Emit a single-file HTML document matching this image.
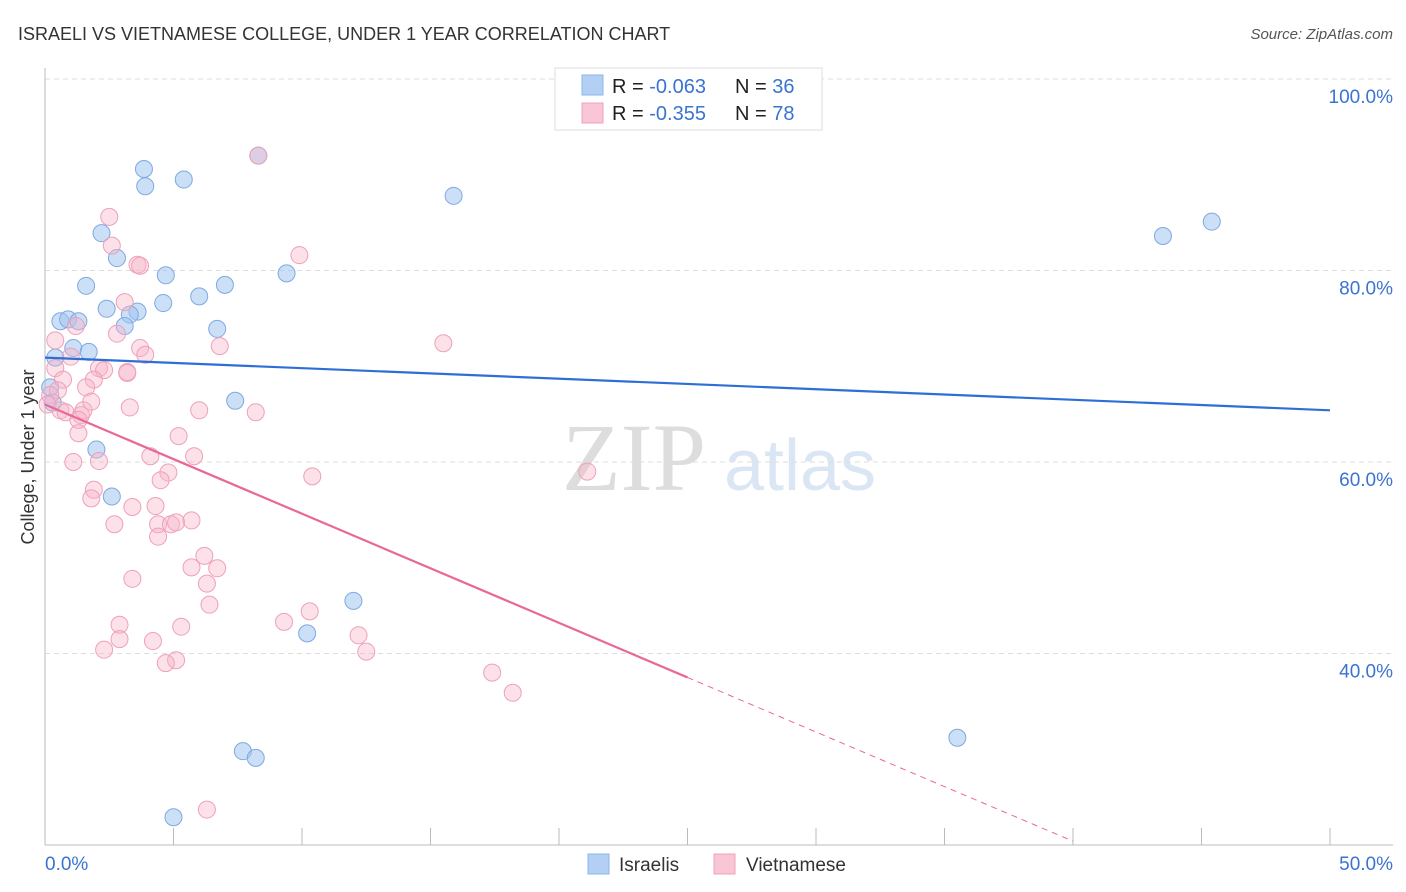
<!DOCTYPE html>
<html><head><meta charset="utf-8"><style>
body{margin:0;background:#fff;font-family:"Liberation Sans",sans-serif;}
svg{display:block}
</style></head><body>
<svg id="c" width="1406" height="892">
<text x="18" y="40" font-size="18" fill="#333">ISRAELI VS VIETNAMESE COLLEGE, UNDER 1 YEAR CORRELATION CHART</text>
<text x="1393" y="39" font-size="15" fill="#555" font-style="italic" text-anchor="end">Source: ZipAtlas.com</text>
<text x="634" y="490" font-size="96" fill="#ddd" font-family="Liberation Serif,serif" text-anchor="middle">ZIP</text>
<text x="800" y="490" font-size="72" fill="#dbe6f5" text-anchor="middle">atlas</text>
<text transform="translate(34,457) rotate(-90)" font-size="18" fill="#333" text-anchor="middle">College, Under 1 year</text>
<g id="grid"></g><g id="pts"></g><g id="trend"></g>
<g>
<rect x="555" y="68" width="267" height="62" fill="#fff" stroke="#ddd"/>
<rect x="582" y="75" width="21" height="20" fill="#b3cff3" stroke="#8db4e8"/>
<rect x="582" y="103" width="21" height="20" fill="#f9c6d6" stroke="#f0a0bc"/>
<text x="612" y="93" font-size="20" fill="#222">R = <tspan fill="#3b73d1">-0.063</tspan><tspan x="735">N = </tspan><tspan fill="#3b73d1">36</tspan></text>
<text x="612" y="120" font-size="20" fill="#222">R = <tspan fill="#3b73d1">-0.355</tspan><tspan x="735">N = </tspan><tspan fill="#3b73d1">78</tspan></text>
</g>
<g>
<rect x="588" y="854" width="21" height="20" fill="#b3cff3" stroke="#8db4e8"/>
<text x="619" y="871" font-size="19" fill="#333">Israelis</text>
<rect x="714" y="854" width="21" height="20" fill="#f9c6d6" stroke="#f0a0bc"/>
<text x="746" y="871" font-size="19" fill="#333">Vietnamese</text>
</g>
</svg>
<script>
const yTicks=[40,60,80,100];
const xTickLabels=["0.0%","50.0%"];
const israeliX=[3.85,3.9,5.4,8.3,15.9,43.5,45.4,2.2,2.8,1.6,4.7,7.0,9.4,6.0,4.6,2.4,3.6,3.3,3.1,0.6,0.9,1.3,6.7,1.1,1.7,0.4,7.4,0.2,0.3,2.0,2.6,12.0,10.2,35.5,7.7,8.2,5.0];
const israeliY=[90.6,88.8,89.5,92.0,87.8,83.6,85.1,83.9,81.3,78.4,79.5,78.5,79.7,77.3,76.6,76.0,75.7,75.4,74.2,74.7,74.9,74.7,73.9,71.9,71.5,70.9,66.4,67.8,66.2,61.3,56.4,45.5,42.1,31.2,29.8,29.1,22.9];
const vietX=[2.5,2.6,3.6,3.7,9.9,3.1,2.8,1.2,0.4,3.7,3.9,1.0,0.4,2.1,2.3,3.2,3.2,15.5,6.8,1.9,0.7,0.5,1.6,0.2,0.1,0.6,0.8,1.4,1.5,1.3,1.8,3.3,6.0,8.2,1.3,5.2,1.1,2.1,4.1,5.8,4.8,4.5,10.4,21.1,1.9,1.8,3.4,4.3,2.7,4.4,4.9,5.1,5.7,4.4,6.2,5.7,6.7,6.3,3.4,6.4,10.3,9.3,2.9,5.3,2.9,4.2,12.2,2.3,12.5,5.1,4.7,17.4,18.2,6.3,8.3];
const vietY=[85.6,82.6,80.6,80.5,81.6,76.7,73.4,74.2,72.7,71.9,71.2,71.0,69.8,69.8,69.6,69.4,69.3,72.4,72.1,68.6,68.6,67.5,67.8,67.0,66.0,65.4,65.2,64.9,65.4,64.4,66.3,65.7,65.4,65.2,63.0,62.7,60.0,60.1,60.6,60.6,58.9,58.1,58.5,59.0,57.1,56.2,55.3,55.4,53.5,53.5,53.5,53.7,53.9,52.2,50.2,49.0,48.9,47.3,47.8,45.1,44.4,43.3,43.0,42.8,41.5,41.3,41.9,40.4,40.2,39.3,39.0,38.0,35.9,23.7,92.0];
const israeliTrend=[70.9,65.4];
const vietTrend=[66.0,37.5,20.4];
const vietTrendX=[0,25,40];
const NS="http://www.w3.org/2000/svg";
const X=v=>45+v*25.7, Y=v=>79+(100-v)*9.575;
function mk(t,a,p){const e=document.createElementNS(NS,t);for(const k in a)e.setAttribute(k,a[k]);p.appendChild(e);return e;}
const g=document.getElementById('grid');
yTicks.forEach(t=>{
 const l=mk('line',{x1:45,x2:1393,y1:Y(t),y2:Y(t),stroke:'#ddd','stroke-dasharray':'5,4'},g);
 
 
 const tx=mk('text',{x:1393,y:Y(t)+24,'font-size':19,fill:'#3b73d1','text-anchor':'end'},g);tx.textContent=t.toFixed(1)+'%';
 
 
});
const ax=mk('line',{x1:45,x2:45,y1:68,y2:845,stroke:'#bbb'},g);


const bx=mk('line',{x1:45,x2:1393,y1:845,y2:845,stroke:'#bbb'},g);


for(let i=0;i<=10;i++){const tk=mk('line',{x1:X(i*5),x2:X(i*5),y1:828,y2:845,stroke:'#bbb'},g);
 
 }
[[0,'start',45],[1,'end',1393]].forEach(([i,a,x])=>{const t=mk('text',{x:x,y:870,'font-size':19,fill:'#3b73d1','text-anchor':a},g);t.textContent=xTickLabels[i];
 
 });
const p=document.getElementById('pts');
israeliX.forEach((x,i)=>{const c=mk('circle',{cx:X(x),cy:Y(israeliY[i]),r:8.5,fill:'rgba(160,196,240,0.55)',stroke:'#7fa9e2','stroke-width':1},p);
 
 });
vietX.forEach((x,i)=>{const c=mk('circle',{cx:X(x),cy:Y(vietY[i]),r:8.5,fill:'rgba(248,180,200,0.4)',stroke:'#eea0bb','stroke-width':1},p);
 
 });
const tr=document.getElementById('trend');
const l1=mk('line',{x1:X(0),y1:Y(israeliTrend[0]),x2:X(50),y2:Y(israeliTrend[1]),stroke:'#2e6fd6','stroke-width':2.2},tr);


const l2=mk('line',{x1:X(vietTrendX[0]),y1:Y(vietTrend[0]),x2:X(vietTrendX[1]),y2:Y(vietTrend[1]),stroke:'#e8689a','stroke-width':2.2},tr);


const l3=mk('line',{x1:X(vietTrendX[1]),y1:Y(vietTrend[1]),x2:X(vietTrendX[2]),y2:Y(vietTrend[2]),stroke:'#e8689a','stroke-width':1,'stroke-dasharray':'6,5'},tr);


</script>
</body></html>
